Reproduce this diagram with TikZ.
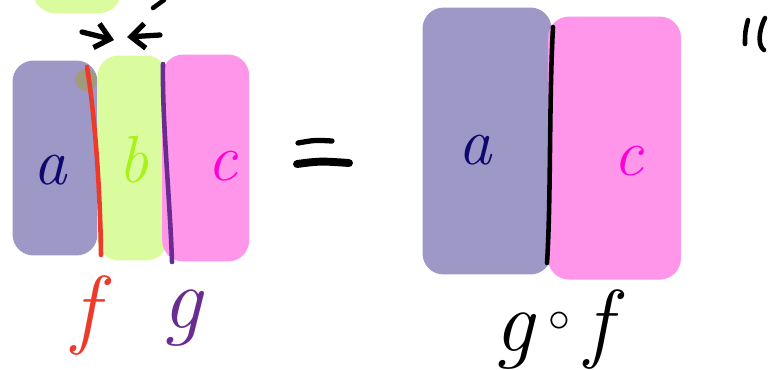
\documentclass[tikz,border=0pt]{standalone}
\usepackage{fontspec}
\usetikzlibrary{positioning,arrows.meta}
\definecolor{slate}{RGB}{157,152,198}
\definecolor{lime}{RGB}{219,252,158}
\definecolor{rose}{RGB}{255,150,234}
\definecolor{mud}{RGB}{160,155,128}
\definecolor{ink}{RGB}{16,8,110}
\definecolor{limeink}{RGB}{166,242,26}
\definecolor{roseink}{RGB}{255,0,212}
\definecolor{fred}{RGB}{238,58,42}
\definecolor{gpurple}{RGB}{106,44,145}
\begin{document}
\begin{tikzpicture}[x=0.02cm,y=-0.02cm,node distance=0pt]
  \tikzstyle{blk}=[rounded corners=12pt,inner sep=0pt,outer sep=0pt]
  \tikzstyle{lbl}=[font=\fontsize{38}{42}\selectfont\itshape,inner sep=0pt]
  \tikzstyle{big}=[font=\fontsize{50}{54}\selectfont\itshape,inner sep=0pt]
  \tikzstyle{pen}=[line width=2.6pt,line cap=round,line join=round]
  \useasboundingbox (0,0) rectangle (776,369);
  \clip (0,0) rectangle (776,369);
  \node[blk,fill=lime,minimum width=1.75cm,minimum height=1cm] (blob) at (77,-12) {};
  \node[blk,fill=slate,minimum width=1.7cm,minimum height=3.9cm] (a) at (55,158) {};
  \node[blk,fill=lime,minimum width=1.4cm,minimum height=4.1cm,right=of a] (b) {};
  \node[blk,fill=rose,minimum width=1.74cm,minimum height=4.14cm,right=-3pt of b] (c) {};
  \fill[mud] (86,80) circle (11);
  \node[lbl,text=ink] (la) at (50,170) {a};
  \node[lbl,text=limeink] (lb) at (134,160) {b};
  \node[lbl,text=roseink] (lc) at (223,166) {c};
  \coordinate (ftop) at (87,67);
  \coordinate (fbot) at (101,255);
  \coordinate (gtop) at (163,64);
  \coordinate (gbot) at (172,262);
  \draw[pen,fred] (ftop) .. controls (94,110) and (100,180) .. (fbot);
  \draw[pen,gpurple] (gtop) .. controls (162,120) and (170,200) .. (gbot);
  \node[big,text=fred] (f) at (86,316) {f};
  \node[big,text=gpurple] (g) at (182,318) {g};
  \coordinate (pl) at (82,32);
  \coordinate (pr) at (160,35);
  \draw[pen,line width=3pt,-{Straight Barb[length=8pt,width=14pt]}] (pl) -- (114,40);
  \draw[pen,line width=3pt,-{Straight Barb[length=8pt,width=14pt]}] (pr) -- (127,37);
  \draw[pen] (164,0) -- (153,8);
  \draw[line width=3pt,line cap=round] (298,143) .. controls (315,140) .. (332,141);
  \draw[line width=4.5pt,line cap=round] (297,164) .. controls (320,161) .. (349,163);
  \node[blk,fill=slate,minimum width=2.58cm,minimum height=5.34cm] (a2) at (487,141) {};
  \node[blk,fill=rose,minimum width=2.66cm,minimum height=5.26cm,right=-2pt of a2,yshift=-4pt] (c2) {};
  \node[lbl,text=ink] (la2) at (475,150) {a};
  \node[lbl,text=roseink] (lc2) at (629,161) {c};
  \coordinate (htop) at (553,27);
  \coordinate (hbot) at (547,263);
  \draw[pen,black] (htop) .. controls (549,100) and (551,200) .. (hbot);
  \node[big] (gf) at (553,330) {g\,\raisebox{0.55ex}{$\circ$}\,f};
  \draw[pen] (748,20) .. controls (745,32) .. (745,44);
  \draw[pen] (765,18) .. controls (758,32) and (758,46) .. (764,50);
\end{tikzpicture}
\end{document}
